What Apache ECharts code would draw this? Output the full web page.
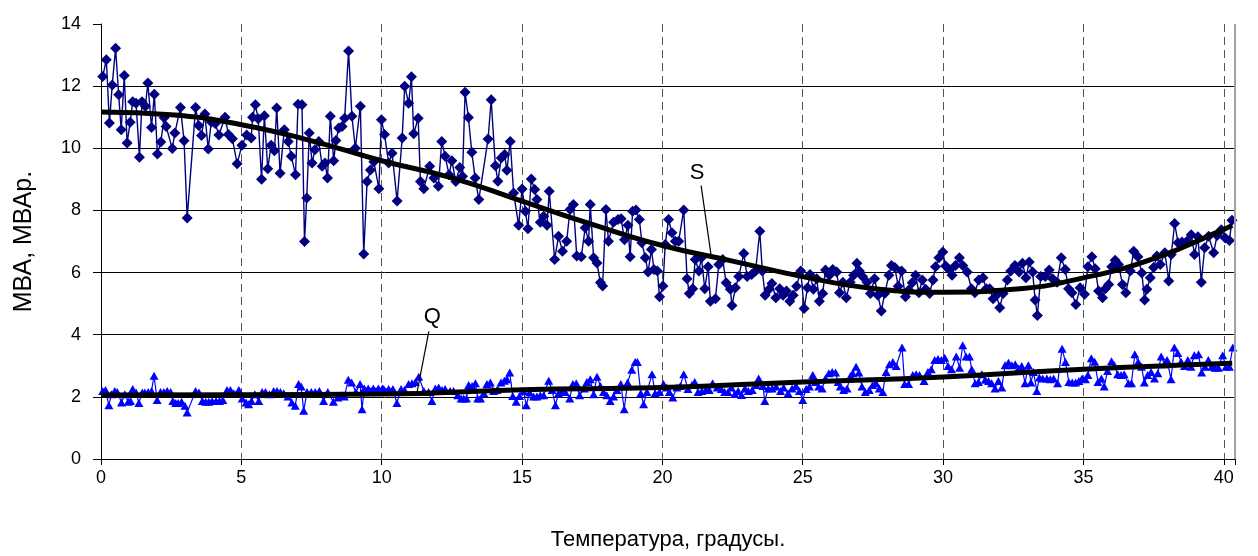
<!DOCTYPE html>
<html>
<head>
<meta charset="utf-8">
<script src="https://cdn.jsdelivr.net/npm/echarts@6/dist/echarts.min.js"></script>
<style>
  html, body { margin: 0; padding: 0; background: #fff; }
  #chart { width: 1258px; height: 556px; }
</style>
</head>
<body>
<div id="chart"></div>
<script>
// S series (МВА), [temperature, value]
const sPoints = [
  [0.06,12.31],[0.19,12.85],[0.3,10.81],[0.4,12.04],[0.52,13.22],[0.63,11.72],[0.72,10.6],[0.83,12.34],[0.93,10.17],
  [1.04,10.84],[1.13,11.5],[1.25,11.45],[1.37,9.71],[1.46,11.5],[1.58,11.35],[1.67,12.1],[1.8,10.67],[1.9,11.74],
  [2.01,9.82],[2.13,10.2],[2.25,10.98],[2.32,10.7],[2.54,9.99],[2.63,10.49],[2.83,11.31],[2.96,10.24],
  [3.07,7.76],[3.37,11.31],[3.48,10.73],[3.58,10.41],[3.7,11.1],[3.82,9.98],[3.93,10.85],
  [4.07,10.8],[4.2,10.43],[4.42,11.0],[4.54,10.44],[4.68,10.31],[4.85,9.5],
  [5.02,10.1],[5.19,10.43],[5.35,10.33],[5.4,11.0],[5.5,11.4],[5.6,10.95],[5.72,9.0],[5.82,11.05],[5.94,9.34],
  [6.06,10.1],[6.18,9.92],[6.26,11.3],[6.38,9.2],[6.53,10.6],[6.67,10.22],[6.78,9.74],[6.93,9.15],
  [7.02,11.42],[7.16,11.4],[7.25,7.0],[7.33,8.4],[7.42,10.49],[7.52,9.53],[7.62,9.95],[7.76,10.22],[7.88,9.42],[7.98,9.53],
  [8.07,9.04],[8.17,11.03],[8.29,9.6],[8.37,10.25],[8.47,10.65],[8.59,10.7],[8.68,10.97],[8.82,13.13],[8.94,11.03],
  [9.06,10.0],[9.24,11.35],[9.36,6.6],[9.48,8.93],[9.6,9.3],[9.72,9.57],[9.9,8.7],[9.99,10.92],
  [10.1,10.44],[10.25,9.53],[10.37,9.84],[10.55,8.3],[10.73,10.33],[10.82,12.0],[10.96,11.45],
  [11.06,12.3],[11.14,10.47],[11.3,10.97],[11.38,8.93],[11.5,8.7],[11.71,9.42],[11.86,9.04],
  [12.02,8.78],[12.14,10.22],[12.26,9.74],[12.4,9.15],[12.5,9.6],[12.64,8.93],[12.78,9.38],[12.88,9.1],[12.97,11.8],
  [13.09,10.99],[13.21,9.87],[13.33,9.04],[13.46,8.35],[13.79,10.3],[13.9,11.56],
  [14.05,9.44],[14.14,8.94],[14.26,9.69],[14.38,9.8],[14.46,9.29],[14.58,10.22],[14.7,8.56],[14.88,7.52],
  [15.0,8.69],[15.12,7.97],[15.21,7.41],[15.33,9.01],[15.45,8.67],[15.53,8.35],[15.65,7.62],[15.77,7.81],[15.89,7.52],[15.97,8.62],
  [16.16,6.42],[16.3,7.17],[16.44,6.69],[16.59,7.01],[16.71,8.03],[16.83,8.19],[16.95,6.53],
  [17.11,6.51],[17.25,7.44],[17.37,7.01],[17.43,8.19],[17.55,6.48],[17.67,6.31],[17.79,5.68],[17.87,5.57],[17.99,8.03],
  [18.08,7.01],[18.26,7.62],[18.42,7.71],[18.53,7.73],[18.65,7.06],[18.77,7.52],[18.85,6.51],[18.94,7.97],
  [19.06,8.01],[19.18,7.71],[19.27,6.96],[19.39,6.48],[19.49,6.02],[19.61,6.74],[19.7,6.1],[19.82,6.05],[19.9,5.22],
  [20.02,5.57],[20.1,6.9],[20.22,7.71],[20.34,7.28],[20.46,7.01],[20.58,7.01],[20.76,8.01],[20.88,5.8],[20.96,5.33],
  [21.08,5.48],[21.17,6.42],[21.3,6.05],[21.39,6.48],[21.51,5.48],[21.63,6.19],[21.71,5.08],[21.89,5.16],
  [22.01,6.26],[22.15,6.42],[22.27,5.67],[22.42,5.46],[22.48,4.94],[22.6,5.51],[22.72,5.87],[22.9,6.61],
  [23.02,5.87],[23.18,5.94],[23.32,6.05],[23.47,7.33],[23.56,6.05],[23.66,5.27],[23.8,5.46],[23.9,5.65],
  [24.04,5.19],[24.18,5.48],[24.3,5.27],[24.42,5.41],[24.54,5.08],[24.66,5.27],[24.78,5.56],[24.93,6.05],
  [25.05,4.84],[25.17,5.51],[25.26,5.94],[25.38,5.46],[25.5,5.8],[25.59,5.08],[25.71,5.33],[25.81,6.08],[25.95,5.91],
  [26.07,6.1],[26.21,6.02],[26.31,5.35],[26.43,5.69],[26.55,5.19],[26.69,5.69],[26.81,5.91],[26.93,6.3],
  [27.02,6.05],[27.13,5.87],[27.29,5.69],[27.41,5.33],[27.56,5.8],[27.68,5.27],[27.8,4.76],[27.92,5.33],
  [28.07,5.91],[28.16,6.23],[28.28,6.16],[28.4,5.56],[28.52,6.05],[28.66,5.22],[28.78,5.44],[28.9,5.67],
  [29.02,5.91],[29.14,5.35],[29.26,5.76],[29.38,5.46],[29.52,5.33],[29.64,5.76],[29.73,6.19],[29.85,6.48],[29.99,6.66],
  [30.09,6.21],[30.21,6.1],[30.32,5.91],[30.44,6.23],[30.58,6.48],[30.7,6.23],[30.86,6.02],
  [31.01,5.48],[31.13,5.35],[31.27,5.76],[31.42,5.83],[31.54,5.48],[31.66,5.48],[31.78,5.16],[31.9,5.27],
  [32.02,4.87],[32.14,5.33],[32.29,5.76],[32.41,6.05],[32.56,6.23],[32.71,6.02],[32.83,6.3],[32.95,5.83],
  [33.07,6.34],[33.19,6.02],[33.28,5.12],[33.36,4.62],[33.48,5.87],[33.64,5.87],[33.78,6.08],[33.9,5.8],
  [34.06,5.69],[34.21,6.48],[34.35,6.1],[34.47,5.48],[34.59,5.35],[34.73,4.97],[34.88,5.51],
  [35.04,5.3],[35.16,6.19],[35.3,6.51],[35.42,6.12],[35.54,5.41],[35.68,5.19],[35.78,5.48],[35.9,5.62],
  [36.01,6.19],[36.13,6.4],[36.25,6.26],[36.39,5.62],[36.51,5.35],[36.67,6.05],[36.79,6.69],[36.94,6.51],
  [37.08,5.99],[37.18,5.12],[37.26,5.46],[37.38,5.83],[37.5,6.16],[37.62,6.53],[37.74,6.26],[37.9,6.64],
  [38.04,5.73],[38.13,6.58],[38.25,7.58],[38.37,6.96],[38.51,6.98],[38.69,7.01],[38.84,7.22],[38.96,6.58],
  [39.08,7.15],[39.2,5.69],[39.32,6.8],[39.46,7.17],[39.64,6.64],[39.76,7.19],[39.91,7.38],
  [40.05,7.11],[40.2,7.03],[40.29,7.68]
];

// Q series (МВАр)
const qPoints = [
  [0.06,2.19],[0.16,2.22],[0.28,1.73],[0.37,2.08],[0.49,2.19],[0.58,2.16],[0.73,1.82],[0.85,2.08],[0.97,1.84],
  [1.05,1.87],[1.13,2.25],[1.25,2.14],[1.35,1.8],[1.47,2.14],[1.56,2.14],[1.68,2.16],[1.8,2.19],[1.89,2.68],
  [2.0,1.9],[2.12,2.16],[2.24,2.16],[2.36,2.19],[2.48,2.16],[2.56,1.87],[2.66,1.8],[2.75,1.8],[2.87,1.84],[2.99,1.71],
  [3.07,1.5],[3.37,2.19],[3.49,2.14],[3.61,1.87],[3.73,1.84],[3.84,1.84],[3.96,1.87],
  [4.1,1.87],[4.22,1.87],[4.34,1.9],[4.49,2.22],[4.61,2.22],[4.73,2.12],[4.91,2.22],
  [5.03,1.95],[5.17,1.82],[5.26,1.76],[5.36,1.87],[5.48,2.08],[5.62,1.87],[5.74,2.16],[5.86,2.16],
  [6.0,2.08],[6.15,2.19],[6.27,2.19],[6.39,2.16],[6.51,2.12],[6.66,2.01],[6.8,1.82],[6.92,1.71],
  [7.04,2.41],[7.13,2.33],[7.22,1.55],[7.34,2.16],[7.49,2.16],[7.63,2.16],[7.78,2.19],[7.93,1.87],
  [8.08,2.16],[8.28,1.84],[8.44,1.98],[8.58,2.05],[8.67,2.01],[8.81,2.55],[8.93,2.46],
  [9.08,2.16],[9.23,2.41],[9.3,1.6],[9.38,2.27],[9.52,2.27],[9.7,2.27],[9.88,2.27],
  [10.02,2.27],[10.07,2.25],[10.25,2.25],[10.4,2.25],[10.54,1.8],[10.69,2.25],[10.81,2.22],[10.96,2.41],
  [11.08,2.44],[11.2,2.48],[11.32,2.65],[11.5,2.19],[11.67,2.16],[11.79,1.87],[11.91,2.27],
  [12.03,2.3],[12.15,2.22],[12.26,2.25],[12.44,2.19],[12.56,2.19],[12.71,2.05],[12.83,1.95],[12.92,1.95],
  [13.02,1.95],[13.1,2.38],[13.22,2.35],[13.34,2.44],[13.42,1.95],[13.52,1.95],[13.64,2.12],[13.75,2.41],[13.87,2.46],[13.99,2.19],
  [14.11,2.22],[14.25,2.46],[14.37,2.52],[14.46,2.57],[14.56,2.78],[14.67,2.03],[14.79,1.84],[14.91,2.03],
  [15.05,2.19],[15.15,1.73],[15.27,2.14],[15.41,2.01],[15.53,2.01],[15.65,2.05],[15.77,2.05],[15.95,2.52],
  [16.07,2.22],[16.19,1.73],[16.3,2.12],[16.42,2.16],[16.54,2.16],[16.7,1.95],[16.81,2.41],[16.93,2.44],
  [17.05,2.05],[17.22,2.27],[17.31,2.48],[17.43,2.57],[17.55,2.08],[17.67,2.65],[17.79,2.35],[17.9,2.16],
  [18.02,2.05],[18.14,1.87],[18.26,2.01],[18.38,2.22],[18.52,2.41],[18.64,1.6],[18.76,2.46],[18.91,2.87],
  [19.03,3.12],[19.11,3.12],[19.23,2.12],[19.33,1.76],[19.45,2.16],[19.63,2.73],[19.74,2.12],[19.9,2.16],
  [20.04,2.41],[20.16,2.3],[20.25,2.16],[20.37,1.98],[20.52,2.3],[20.64,2.35],[20.76,2.73],[20.91,2.25],
  [21.05,2.38],[21.15,2.48],[21.27,2.16],[21.41,2.19],[21.55,2.22],[21.67,2.22],[21.79,2.44],[21.95,2.3],
  [22.1,2.25],[22.22,2.16],[22.34,2.16],[22.46,2.3],[22.58,2.09],[22.7,2.19],[22.82,2.06],[22.94,2.27],
  [23.06,2.19],[23.2,2.22],[23.34,2.38],[23.43,2.59],[23.58,2.35],[23.65,1.87],[23.77,2.27],[23.91,2.27],
  [24.05,2.33],[24.21,2.19],[24.32,2.3],[24.48,2.12],[24.62,2.27],[24.76,2.35],[24.88,2.19],
  [25.0,1.9],[25.12,2.25],[25.24,2.33],[25.36,2.7],[25.45,2.48],[25.57,2.33],[25.69,2.27],[25.81,2.59],[25.93,2.76],
  [26.05,2.8],[26.17,2.78],[26.26,2.48],[26.34,2.33],[26.46,2.22],[26.58,2.27],[26.7,2.67],[26.78,2.76],[26.9,2.97],
  [27.0,2.78],[27.11,2.33],[27.23,2.16],[27.37,2.22],[27.49,2.38],[27.61,2.44],[27.73,2.27],[27.85,2.16],[27.97,2.8],
  [28.09,3.05],[28.21,3.12],[28.33,2.99],[28.54,3.59],[28.63,2.41],[28.77,2.41],[28.92,2.7],
  [29.04,2.73],[29.16,2.7],[29.32,2.51],[29.46,2.8],[29.58,2.89],[29.7,3.19],[29.82,3.22],[29.94,3.19],
  [30.06,3.26],[30.18,2.99],[30.3,2.89],[30.47,3.3],[30.59,2.94],[30.7,3.66],[30.82,3.3],[30.94,3.3],
  [31.02,2.89],[31.14,2.44],[31.26,2.48],[31.38,2.73],[31.5,2.55],[31.62,2.51],[31.73,2.44],[31.85,2.27],[31.97,2.51],
  [32.09,2.3],[32.21,3.02],[32.33,3.1],[32.45,3.02],[32.57,3.05],[32.69,2.91],[32.8,2.99],[32.92,2.44],
  [33.04,3.02],[33.13,2.46],[33.22,2.8],[33.34,2.19],[33.43,2.62],[33.55,2.59],[33.7,2.59],[33.82,2.57],[33.94,2.59],
  [34.08,2.44],[34.24,3.55],[34.36,3.12],[34.48,2.48],[34.6,2.46],[34.72,2.46],[34.84,2.51],[34.95,2.59],
  [35.07,2.57],[35.16,2.7],[35.28,3.24],[35.4,3.13],[35.52,2.48],[35.64,2.59],[35.74,2.33],[35.86,2.83],
  [36.0,3.15],[36.1,3.02],[36.22,2.73],[36.34,2.7],[36.45,2.73],[36.6,2.44],[36.71,2.44],[36.83,3.37],[36.95,3.12],
  [37.07,2.97],[37.17,2.46],[37.29,2.7],[37.41,2.8],[37.53,2.59],[37.65,2.76],[37.77,3.3],[37.89,3.05],[37.98,3.19],
  [38.12,2.57],[38.24,3.59],[38.36,3.41],[38.48,3.13],[38.6,2.99],[38.72,3.19],[38.83,2.97],[38.95,3.34],
  [39.1,3.37],[39.21,2.78],[39.33,2.97],[39.45,3.19],[39.57,2.97],[39.69,2.94],[39.81,2.94],[39.96,3.34],
  [40.08,2.97],[40.2,2.97],[40.32,3.59]
];

// trend lines
const sTrend = [
  [0,11.17],[2.5,11.08],[5,10.76],[7.5,10.24],[10,9.6],[12.5,9.05],[15,8.3],[17.5,7.55],[20,6.87],
  [22.5,6.37],[25,5.87],[27.5,5.49],[30,5.37],[32.5,5.46],[35,5.83],[37.5,6.45],[40,7.39],[40.3,7.52]
];
const qTrend = [
  [0,2.06],[5,2.07],[10,2.09],[15,2.23],[20,2.3],[25,2.48],[30,2.64],[35,2.89],[40,3.07],[40.3,3.08]
];

const xTicks = [0, 5, 10, 15, 20, 25, 30, 35, 40];
const xMax = 40.4;

const FONT = 'Liberation Sans, Arial, sans-serif';
const chart = echarts.init(document.getElementById('chart'));

chart.setOption({
  backgroundColor: '#fff',
  animation: false,
  grid: { left: 101, right: 23, top: 24, bottom: 96 },
  xAxis: {
    type: 'value',
    min: 0,
    max: xMax,
    interval: 5,
    name: 'Температура, градусы.',
    nameLocation: 'middle',
    nameGap: 70,
    nameTextStyle: { fontSize: 22, color: '#000', fontFamily: FONT },
    axisLine: { onZero: false, lineStyle: { color: '#000', width: 1 } },
    axisTick: { show: true, length: 6, lineStyle: { color: '#000' } },
    axisLabel: {
      fontSize: 18, color: '#000', fontFamily: FONT, margin: 10,
      formatter: (v) => xTicks.includes(v) ? String(v) : ''
    },
    splitLine: { show: true, lineStyle: { color: '#555', width: 1, type: [8, 5] } }
  },
  yAxis: {
    type: 'value',
    min: 0,
    max: 14,
    interval: 2,
    name: 'МВА, МВАр.',
    nameLocation: 'middle',
    nameGap: 64,
    nameTextStyle: { fontSize: 25, color: '#000', fontFamily: FONT },
    axisLine: { show: true, lineStyle: { color: '#000', width: 1 } },
    axisTick: { show: true, length: 8, lineStyle: { color: '#000' } },
    axisLabel: { fontSize: 18, color: '#000', fontFamily: FONT, margin: 20 },
    splitLine: { show: true, showMaxLine: false, lineStyle: { color: '#000', width: 1 } }
  },
  series: [
    {
      name: 'Q',
      type: 'line',
      data: qPoints,
      symbol: 'triangle',
      symbolSize: [9, 8],
      showAllSymbol: true,
      itemStyle: { color: '#0000ff' },
      lineStyle: { color: '#0000ff', width: 1.2 },
      // right plot border
      markLine: {
        silent: true,
        symbol: 'none',
        label: { show: false },
        lineStyle: { color: '#a0a0a0', width: 2, type: 'solid' },
        data: [{ xAxis: xMax }]
      },
      z: 2
    },
    {
      name: 'S',
      type: 'line',
      data: sPoints,
      symbol: 'diamond',
      symbolSize: [11, 11],
      showAllSymbol: true,
      itemStyle: { color: '#000080' },
      lineStyle: { color: '#000080', width: 1.4 },
      z: 3
    },
    {
      name: 'Q trend',
      type: 'line',
      data: qTrend,
      smooth: true,
      symbol: 'none',
      lineStyle: { color: '#000', width: 5 },
      z: 4
    },
    {
      name: 'S trend',
      type: 'line',
      data: sTrend,
      smooth: true,
      symbol: 'none',
      lineStyle: { color: '#000', width: 5 },
      z: 4
    },
    {
      name: 'S leader',
      type: 'line',
      data: [[21.38, 8.8], [21.74, 6.52]],
      symbol: 'none',
      lineStyle: { color: '#000', width: 1.2 },
      z: 5
    },
    {
      name: 'Q leader',
      type: 'line',
      data: [[11.68, 4.11], [11.26, 2.15]],
      symbol: 'none',
      lineStyle: { color: '#000', width: 1.2 },
      z: 5
    },
    {
      name: 'labels',
      type: 'scatter',
      symbolSize: 0,
      itemStyle: { opacity: 1 },
      data: [
        { value: [21.24, 9.22], label: { formatter: 'S' } },
        { value: [11.8, 4.56], label: { formatter: 'Q' } }
      ],
      label: { show: true, position: 'inside', fontSize: 22, color: '#000', opacity: 1, fontFamily: FONT },
      z: 6
    }
  ]
});
</script>
</body>
</html>
